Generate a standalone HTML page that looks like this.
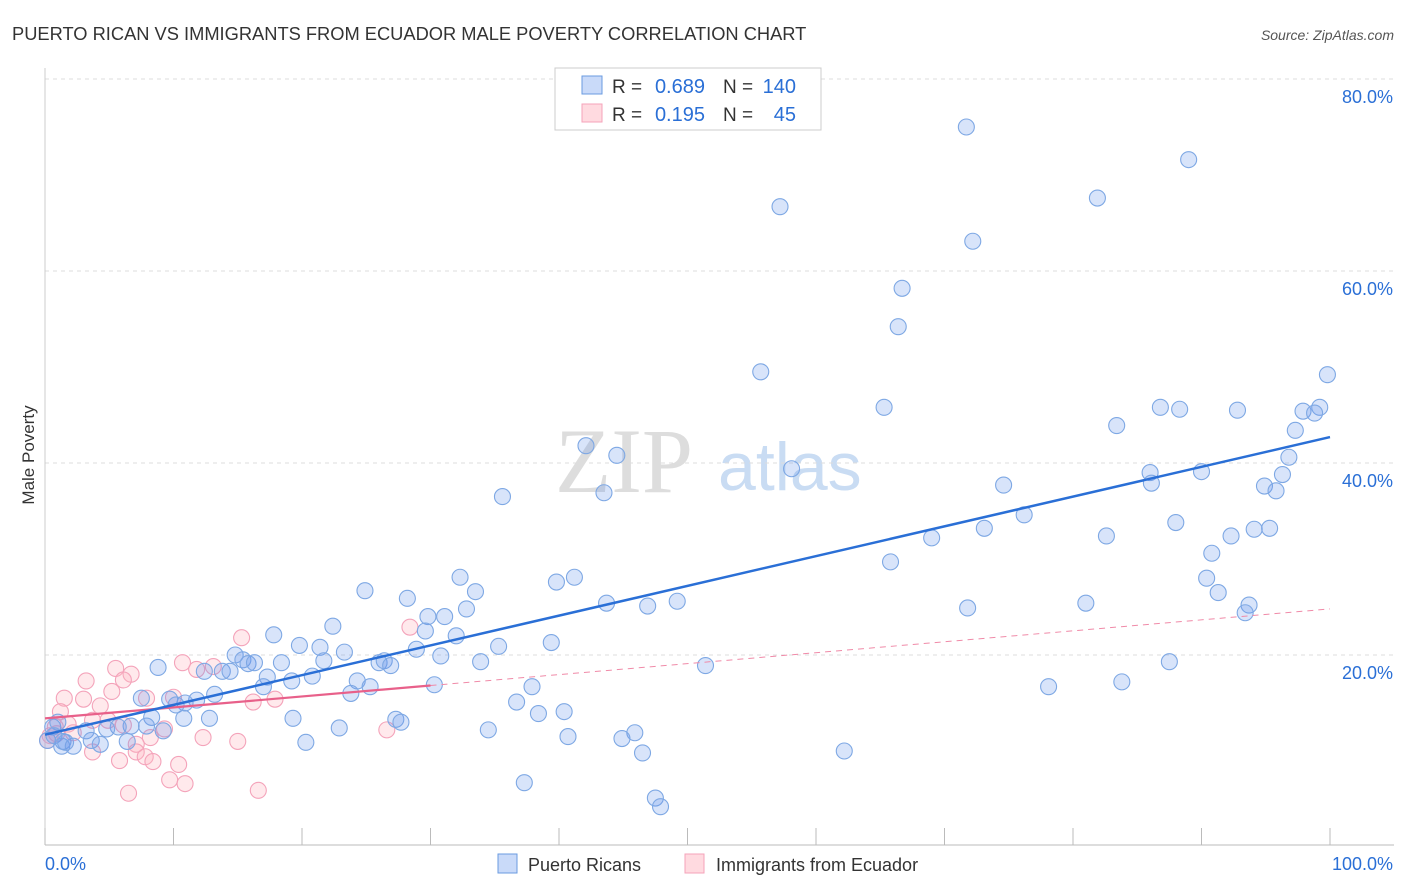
<!DOCTYPE html>
<html><head><meta charset="utf-8">
<style>
body{margin:0;background:#fff;font-family:"Liberation Sans",sans-serif;}
svg{display:block}
</style></head>
<body>
<svg id="chart" width="1406" height="892">
<text x="12" y="40" font-size="18.3" fill="#333">PUERTO RICAN VS IMMIGRANTS FROM ECUADOR MALE POVERTY CORRELATION CHART</text>
<text x="1394" y="40" font-size="14" fill="#555" font-style="italic" text-anchor="end">Source: ZipAtlas.com</text>
<g>
<text x="555" y="492" font-size="92" fill="#ddd" font-family="Liberation Serif,serif">ZIP</text>
<text x="718" y="490" font-size="68" fill="#c9dcf3">atlas</text>
</g>
<g id="grid"></g>
<g id="axes"></g>
<g id="marks"></g>
<text x="34" y="455" font-size="17" fill="#333" transform="rotate(-90 34 455)" text-anchor="middle">Male Poverty</text>
<g>
<rect x="555" y="68" width="266" height="62" fill="#fff" stroke="#ccc"/>
<rect x="582" y="76" width="20" height="18" fill="rgba(100,149,237,0.35)" stroke="#6a9be0"/>
<text x="612" y="93" font-size="19" fill="#333">R =</text>
<text x="705" y="93" font-size="20" fill="#2a6fd6" text-anchor="end">0.689</text>
<text x="723" y="93" font-size="19" fill="#333">N =</text>
<text x="796" y="93" font-size="20" fill="#2a6fd6" text-anchor="end">140</text>
<rect x="582" y="104" width="20" height="18" fill="rgba(255,182,193,0.5)" stroke="#f4a3ba"/>
<text x="612" y="121" font-size="19" fill="#333">R =</text>
<text x="705" y="121" font-size="20" fill="#2a6fd6" text-anchor="end">0.195</text>
<text x="723" y="121" font-size="19" fill="#333">N =</text>
<text x="796" y="121" font-size="20" fill="#2a6fd6" text-anchor="end">45</text>
</g>
<g>
<rect x="498" y="854" width="19" height="19" fill="rgba(100,149,237,0.35)" stroke="#6a9be0"/>
<text x="528" y="871" font-size="18" fill="#333">Puerto Ricans</text>
<rect x="685" y="854" width="19" height="19" fill="rgba(255,182,193,0.5)" stroke="#f4a3ba"/>
<text x="716" y="871" font-size="18" fill="#333">Immigrants from Ecuador</text>
</g>
</svg>
<script>
const yTicks=[20,40,60,80];
const yTickLabels=["20.0%","40.0%","60.0%","80.0%"];
const xTicks=[0,10,20,30,40,50,60,70,80,90,100];
const blueX=[71.7,89.0,57.2,81.9,72.2,66.7,66.4,55.7,99.8,65.3,86.8,88.3,92.8,97.9,99.2,98.8,83.4,97.3,42.1,44.5,96.8,58.1,86.0,90.0,96.3,86.1,74.6,94.9,95.8,35.6,43.5,76.2,88.0,73.1,94.1,95.3,82.6,69.0,92.3,90.8,65.8,32.3,41.2,39.8,90.4,24.9,33.5,91.3,28.2,43.7,49.2,46.9,81.0,93.7,71.8,93.4,32.8,29.8,31.1,22.4,17.8,29.6,32.0,19.8,21.4,39.4,35.3,23.3,28.9,14.8,30.8,15.4,21.7,15.8,16.3,18.4,26.0,26.4,26.9,33.9,51.4,87.5,8.8,12.4,13.8,14.4,20.8,17.3,19.2,24.3,83.8,25.3,17.0,30.3,37.9,78.1,23.8,13.2,7.5,9.7,11.8,10.9,10.2,36.7,8.3,10.8,12.8,19.3,40.4,38.4,27.3,27.7,6.7,5.7,7.9,3.2,0.6,1.0,4.8,9.2,34.5,22.9,45.9,40.7,44.9,0.2,0.7,1.4,3.6,4.3,6.4,20.3,1.3,2.2,1.6,46.5,62.2,37.3,47.5,47.9];
const blueY=[75.0,71.6,66.7,67.6,63.1,58.2,54.2,49.5,49.2,45.8,45.8,45.6,45.5,45.4,45.8,45.2,43.9,43.4,41.8,40.8,40.6,39.4,39.0,39.1,38.8,37.9,37.7,37.6,37.1,36.5,36.9,34.6,33.8,33.2,33.1,33.2,32.4,32.2,32.4,30.6,29.7,28.1,28.1,27.6,28.0,26.7,26.6,26.5,25.9,25.4,25.6,25.1,25.4,25.2,24.9,24.4,24.8,24.0,24.0,23.0,22.1,22.5,22.0,21.0,20.8,21.3,20.9,20.3,20.6,20.0,19.9,19.5,19.4,19.1,19.2,19.2,19.2,19.4,18.9,19.3,18.9,19.3,18.7,18.3,18.3,18.3,17.8,17.7,17.3,17.3,17.2,16.7,16.7,16.9,16.7,16.7,16.0,15.9,15.5,15.4,15.3,15.0,14.8,15.1,13.5,13.4,13.4,13.4,14.1,13.9,13.3,13.0,12.6,12.5,12.6,12.1,12.5,13.0,12.3,12.1,12.2,12.4,11.9,11.5,11.3,11.1,11.6,11.0,11.1,10.7,11.0,10.9,10.5,10.5,10.9,9.8,10.0,6.7,5.1,4.2];
const pinkX=[15.3,28.4,10.7,13.1,11.8,5.5,6.7,3.2,6.1,5.2,1.5,3.0,7.9,10.0,4.3,16.2,17.9,1.2,3.7,4.9,1.8,0.8,6.1,9.3,26.6,0.4,2.2,8.2,12.3,15.0,7.1,0.2,3.7,7.1,7.8,5.8,8.4,10.4,9.7,10.9,6.5,16.6,0.9];
const pinkY=[21.8,22.9,19.2,18.8,18.5,18.6,18.0,17.3,17.4,16.2,15.5,15.4,15.5,15.6,14.7,15.1,15.4,14.1,13.2,13.2,12.8,12.5,12.7,12.3,12.2,11.6,11.9,11.4,11.4,11.0,10.7,11.1,9.9,9.9,9.4,9.0,8.9,8.6,7.0,6.6,5.6,5.9,11.8];
const blueTrend=[11.7,42.7];
const pinkTrend=[13.4,24.8];
const pinkSolidEnd=30;

const NS="http://www.w3.org/2000/svg";
const X=v=>45+v*12.85, Y=v=>847-v*9.6;
function mk(tag,attrs,parent){const e=document.createElementNS(NS,tag);for(const k in attrs)e.setAttribute(k,attrs[k]);parent.appendChild(e);return e;}
const grid=document.getElementById('grid'),axes=document.getElementById('axes'),marks=document.getElementById('marks');
yTicks.forEach((t,i)=>{
 const l=mk('line',{x1:45,x2:1394,y1:Y(t),y2:Y(t),stroke:'#ddd','stroke-dasharray':'4,4'},grid);
 
 
 const tx=mk('text',{x:1393,y:Y(t)+24,'font-size':18,fill:'#2a6fd6','text-anchor':'end'},axes);
 tx.textContent=yTickLabels[i];
 
 
});
const ax=mk('line',{x1:45,x2:1394,y1:845,y2:845,stroke:'#bbb'},axes);


const ay=mk('line',{x1:45,x2:45,y1:68,y2:845,stroke:'#ccc'},axes);


xTicks.forEach(t=>{
 const l=mk('line',{x1:X(t),x2:X(t),y1:828,y2:845,stroke:'#bbb'},axes);
 
 
});
const xl0=mk('text',{x:45,y:870,'font-size':18,fill:'#2a6fd6'},axes);xl0.textContent='0.0%';


const xl1=mk('text',{x:1393,y:870,'font-size':18,fill:'#2a6fd6','text-anchor':'end'},axes);xl1.textContent='100.0%';



pinkX.forEach((x,i)=>{
 const c=mk('circle',{cx:X(x),cy:Y(pinkY[i]),r:8,fill:'rgba(255,182,193,0.3)',stroke:'#f4a3ba','stroke-width':1.1},marks);
 
 
});
blueX.forEach((x,i)=>{
 const c=mk('circle',{cx:X(x),cy:Y(blueY[i]),r:8,fill:'rgba(100,149,237,0.25)',stroke:'#7ea8e4','stroke-width':1.1},marks);
 
 
});
const pAt=v=>pinkTrend[0]+(pinkTrend[1]-pinkTrend[0])*v/100;
const pd=mk('line',{x1:X(pinkSolidEnd),y1:Y(pAt(pinkSolidEnd)),x2:X(100),y2:Y(pinkTrend[1]),stroke:'#f08aa8','stroke-width':1,'stroke-dasharray':'6,5'},marks);


const ps=mk('line',{x1:X(0),y1:Y(pinkTrend[0]),x2:X(pinkSolidEnd),y2:Y(pAt(pinkSolidEnd)),stroke:'#e8608a','stroke-width':2.2},marks);


const bt=mk('line',{x1:X(0),y1:Y(blueTrend[0]),x2:X(100),y2:Y(blueTrend[1]),stroke:'#2a6fd6','stroke-width':2.5},marks);


</script>
</body></html>
